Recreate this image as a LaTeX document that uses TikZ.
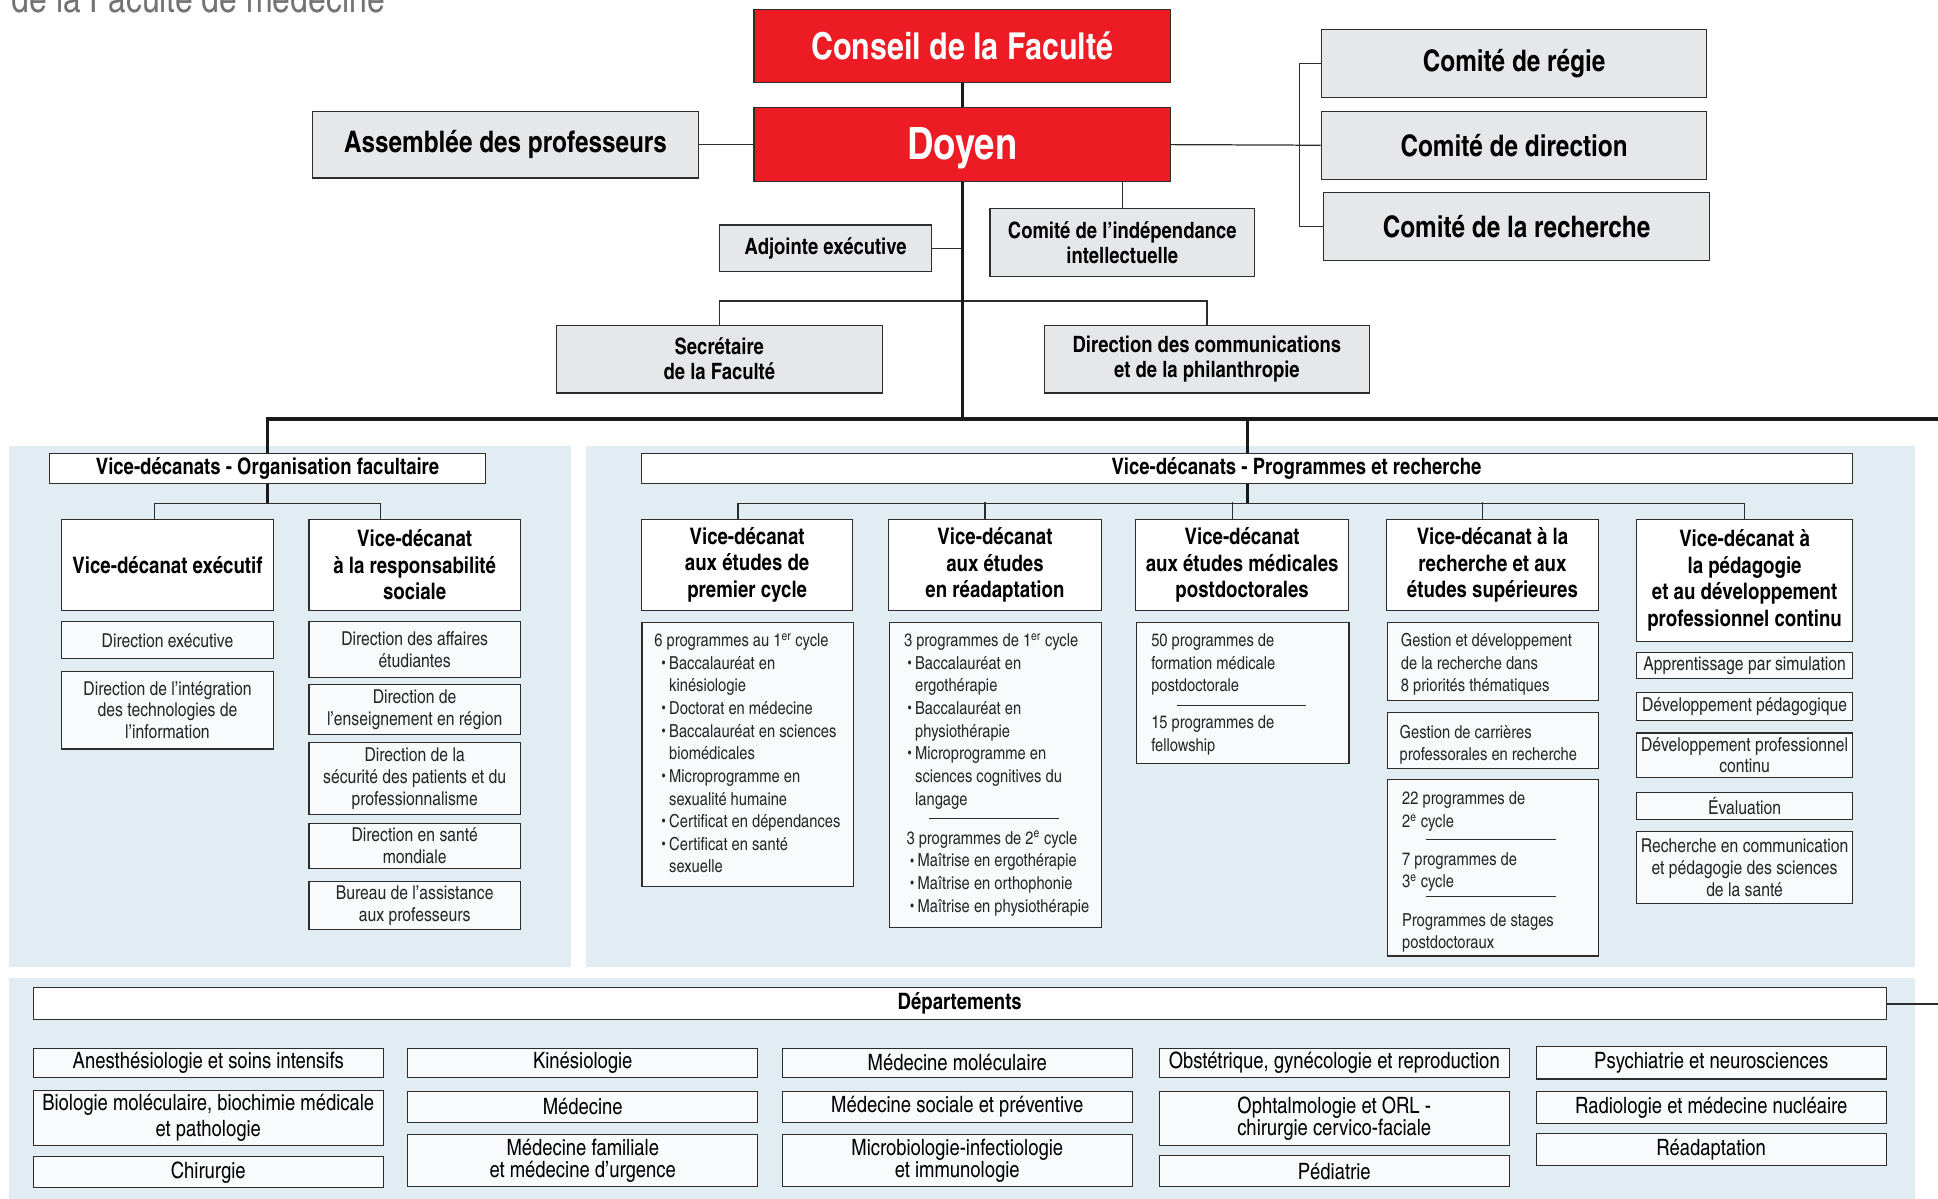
\documentclass[tikz,border=0pt]{standalone}
\usepackage{fontspec}
\setmainfont{texgyreheroscn}[Extension=.otf,UprightFont=*-regular,BoldFont=*-bold,ItalicFont=*-italic,BoldItalicFont=*-bolditalic]

\definecolor{facred}{RGB}{237,28,36}
\definecolor{boxgray}{RGB}{230,231,232}
\definecolor{panelblue}{RGB}{225,236,243}
\definecolor{listfill}{RGB}{248,250,252}
\definecolor{edge}{RGB}{45,45,45}

\newcommand{\ftitle}{\fontsize{31.5}{36}\selectfont}
\newcommand{\fconseil}{\fontsize{30}{36}\selectfont\bfseries}
\newcommand{\fdoyen}{\fontsize{36}{40}\selectfont\bfseries}
\newcommand{\fbig}{\fontsize{24}{28}\selectfont\bfseries}
\newcommand{\fmid}{\fontsize{18.2}{20.5}\selectfont\bfseries}
\newcommand{\fhead}{\fontsize{18.3}{20}\selectfont\bfseries}
\newcommand{\fvd}{\fontsize{18.4}{21.6}\selectfont\bfseries}
\newcommand{\fsmall}{\fontsize{15.5}{17.6}\selectfont}
\newcommand{\flist}{\fontsize{14.5}{18.3}\selectfont}
\newcommand{\fdept}{\fontsize{18.2}{17.5}\selectfont}

\newlength{\itmskip}
\newcommand{\itm}[1]{\par\leftskip=\itmskip\noindent\llap{\raisebox{1.5pt}{\scalebox{0.7}{\textbullet}}\hspace{3pt}}#1}

\tikzset{every picture/.style={line width=0.9pt}}
\tikzset{
  sz/.style 2 args={minimum width=#1,minimum height=#2},
  redbox/.style={draw=edge,fill=facred,text=white,align=center,inner sep=2pt},
  graybox/.style={draw=edge,fill=boxgray,align=center,inner sep=2pt},
  whitebox/.style={draw=edge,fill=white,align=center,inner sep=2pt},
  subbox/.style={draw=edge,fill=listfill,align=center,inner sep=1pt,text=black!85},
  listbox/.style={draw=edge,fill=listfill,anchor=north west,inner sep=0pt,text=black!85},
  deptbox/.style={draw=edge,fill=listfill,align=center,inner sep=1pt,minimum width=283pt,font=\fdept},
  trunk/.style={line width=2.5pt,draw=black!90},
  link/.style={line width=1pt,draw=edge},
  sep/.style={line width=0.8pt,draw=edge},
  panel/.style={fill=panelblue}
}

\begin{document}
\begin{tikzpicture}[x=1pt,y=1pt,yscale=-1]
\useasboundingbox (0,0) rectangle (1568,970);

% background panels
\fill[panel] (7,361) rectangle (462,782);
\fill[panel] (474,361) rectangle (1549,782);
\fill[panel] (7,791) rectangle (1549,975);

% title (cut by the page)
\node[anchor=base west,inner sep=0pt,font=\ftitle,text=black!55] (title) at (9,10) {de la Faculté de médecine};

% direction
\node[redbox,sz={337pt}{59pt},font=\fconseil] (conseil) at (778.5,37.5) {Conseil de la Faculté};
\node[redbox,sz={337pt}{60pt},font=\fdoyen] (doyen) at (778.5,117) {\vphantom{Doyen}\smash{\raisebox{-3pt}{Doyen}}};
\node[graybox,sz={312pt}{54pt},font=\fbig] (assemblee) at (409,117) {Assemblée des professeurs};
\node[graybox,sz={312pt}{55pt},font=\fbig] (regie) at (1225,51.5) {Comité de régie};
\node[graybox,sz={312pt}{55pt},font=\fbig] (direction) at (1225,117.5) {Comité de direction};
\node[graybox,sz={312pt}{55pt},font=\fbig] (recherche) at (1227,183.5) {Comité de la recherche};
\node[graybox,sz={214pt}{55pt},font=\fmid] (independance) at (908,196.5) {Comité de l’indépendance\\intellectuelle};
\node[graybox,sz={172pt}{38pt},font=\fmid] (adjointe) at (668,201) {Adjointe exécutive};
\node[graybox,sz={264pt}{55pt},font=\fmid] (secretaire) at (582,290.5) {Secrétaire\\de la Faculté};
\node[graybox,sz={263pt}{55pt},font=\fmid] (communications) at (976.5,290.5) {Direction des communications\\et de la philanthropie};

% vice-decanats - organisation facultaire
\node[whitebox,sz={353pt}{24pt},font=\fhead] (orghdr) at (216.5,379) {Vice-décanats - Organisation facultaire};
\node[whitebox,sz={171pt}{74pt},font=\fvd] (vdexec) at (135.5,457) {Vice-décanat exécutif};
\node[whitebox,sz={171pt}{74pt},font=\fvd] (vdsoc) at (335.5,457) {Vice-décanat\\à la responsabilité\\sociale};
\node[subbox,sz={171pt}{30pt},font=\fsmall] (dexec) at (135.5,518) {Direction exécutive};
\node[subbox,sz={171pt}{63pt},font=\fsmall] (dinteg) at (135.5,574.5) {Direction de l’intégration\\des technologies de\\l’information};
\node[subbox,sz={171pt}{45pt},font=\fsmall] (daffaires) at (335.5,525.5) {Direction des affaires\\étudiantes};
\node[subbox,sz={171pt}{40pt},font=\fsmall] (dregion) at (335.5,574) {Direction de\\l’enseignement en région};
\node[subbox,sz={171pt}{58pt},font=\fsmall] (dsecurite) at (335.5,630) {Direction de la\\sécurité des patients et du\\professionnalisme};
\node[subbox,sz={171pt}{37pt},font=\fsmall] (dsante) at (335.5,684.5) {Direction en santé\\mondiale};
\node[subbox,sz={171pt}{39pt},font=\fsmall] (dbureau) at (335.5,732.5) {Bureau de l’assistance\\aux professeurs};

% vice-decanats - programmes et recherche
\node[whitebox,sz={980pt}{24pt},font=\fhead] (proghdr) at (1009,379) {\hspace*{80pt}Vice-décanats - Programmes et recherche};
\node[whitebox,sz={171pt}{74pt},font=\fvd] (vdprem) at (604.5,457) {Vice-décanat\\aux études de\\premier cycle};
\node[whitebox,sz={172pt}{74pt},font=\fvd] (vdread) at (805,457) {Vice-décanat\\aux études\\en réadaptation};
\node[whitebox,sz={172pt}{74pt},font=\fvd] (vdpost) at (1005,457) {Vice-décanat\\aux études médicales\\postdoctorales};
\node[whitebox,sz={171pt}{74pt},font=\fvd] (vdrech) at (1207.5,457) {Vice-décanat à la\\recherche et aux\\études supérieures};
\node[whitebox,sz={175pt}{99pt},font=\fvd] (vdpeda) at (1411.5,469.5) {Vice-décanat à\\la pédagogie\\et au développement\\professionnel continu};

\node[listbox] (lprem) at (519,503) {\parbox[c][214pt][t]{171pt}{\flist\vspace*{7pt}\setlength{\itmskip}{22pt}\leftskip=10pt\strut 6 programmes au 1\textsuperscript{er} cycle
  \itm{Baccalauréat en\\kinésiologie}\itm{Doctorat en médecine}\itm{Baccalauréat en sciences\\biomédicales}\itm{Microprogramme en\\sexualité humaine}\itm{Certificat en dépendances}\itm{Certificat en santé\\sexuelle}\par}};
\node[listbox] (lread) at (719,503) {\parbox[c][247pt][t]{172pt}{\flist\vspace*{7pt}\setlength{\itmskip}{21pt}\leftskip=12pt\strut 3 programmes de 1\textsuperscript{er} cycle
  \itm{Baccalauréat en\\ergothérapie}\itm{Baccalauréat en\\physiothérapie}\itm{Microprogramme en\\sciences cognitives du\\langage}\par
  \vspace{13.5pt}\setlength{\itmskip}{23pt}\leftskip=14pt\noindent 3 programmes de 2\textsuperscript{e} cycle
  \itm{Maîtrise en ergothérapie}\itm{Maîtrise en orthophonie}\itm{Maîtrise en physiothérapie}\par}};
\node[listbox] (lpost) at (919,503) {\parbox[c][114pt][t]{172pt}{\flist\vspace*{7pt}\leftskip=12pt\strut 50 programmes de\\formation médicale\\postdoctorale\par
  \vspace{11.5pt}\noindent 15 programmes de\\fellowship\par}};
\node[listbox] (lrech1) at (1122,503) {\parbox[c][63pt][t]{171pt}{\flist\vspace*{7pt}\leftskip=11pt\strut Gestion et développement\\de la recherche dans\\8 priorités thématiques\par}};
\node[listbox] (lrech2) at (1122,576) {\parbox[c][45pt][t]{171pt}{\flist\vspace*{8pt}\leftskip=10pt\strut Gestion de carrières\\professorales en recherche\par}};
\node[listbox] (lrech3) at (1122,630) {\parbox[c][143pt][t]{171pt}{\flist\vspace*{8pt}\leftskip=12pt\strut 22 programmes de\\2\textsuperscript{e} cycle\par
  \vspace{12pt}\noindent 7 programmes de\\3\textsuperscript{e} cycle\par
  \vspace{13pt}\noindent Programmes de stages\\postdoctoraux\par}};
\draw[sep] (752,662) -- (857,662);
\draw[sep] (952,571) -- (1057,571);
\draw[sep] (1154,679) -- (1259,679);
\draw[sep] (1154,725) -- (1259,725);

\node[subbox,sz={175pt}{21pt},font=\fsmall] (papp) at (1411.5,538.5) {Apprentissage par simulation};
\node[subbox,sz={175pt}{23pt},font=\fsmall] (pdev) at (1411.5,571.5) {Développement pédagogique};
\node[subbox,sz={175pt}{36pt},font=\fsmall] (pdpc) at (1411.5,611) {Développement professionnel\\continu};
\node[subbox,sz={175pt}{22pt},font=\fsmall] (peval) at (1411.5,652) {Évaluation};
\node[subbox,sz={175pt}{58pt},font=\fsmall] (precom) at (1411.5,702) {Recherche en communication\\et pédagogie des sciences\\de la santé};

% departements
\node[whitebox,sz={1499pt}{26pt},font=\fhead] (depthdr) at (776.5,812) {Départements};
\node[deptbox,minimum height=24pt] (anesth) at (168.5,860) {Anesthésiologie et soins intensifs};
\node[deptbox,minimum height=45pt,font=\fontsize{18.2}{21}\selectfont] (biologie) at (168.5,904.5) {Biologie moléculaire, biochimie médicale\\et pathologie};
\node[deptbox,minimum height=25pt] (chirurgie) at (168.5,948.5) {Chirurgie};
\node[deptbox,minimum height=24pt] (kinesio) at (471.5,860) {Kinésiologie};
\node[deptbox,minimum height=25pt] (medecine) at (471.5,895.5) {Médecine};
\node[deptbox,minimum height=42pt] (medfam) at (471.5,939) {Médecine familiale\\et médecine d’urgence};
\node[deptbox,minimum height=24pt] (molec) at (774.5,860) {Médecine moléculaire};
\node[deptbox,minimum height=25pt] (sociale) at (774.5,895.5) {Médecine sociale et préventive};
\node[deptbox,minimum height=42pt] (microbio) at (774.5,939) {Microbiologie-infectiologie\\et immunologie};
\node[deptbox,minimum height=24pt] (obstet) at (1079.5,860) {Obstétrique, gynécologie et reproduction};
\node[deptbox,minimum height=44pt] (ophtal) at (1079.5,905) {Ophtalmologie et ORL -\\chirurgie cervico-faciale};
\node[deptbox,minimum height=25pt] (pediatrie) at (1079.5,947.5) {Pédiatrie};
\node[deptbox,minimum height=26pt] (psych) at (1384.5,860) {Psychiatrie et neurosciences};
\node[deptbox,minimum height=26pt] (radio) at (1384.5,896) {Radiologie et médecine nucléaire};
\node[deptbox,minimum height=26pt] (readapt) at (1384.5,930) {Réadaptation};

% connectors
\coordinate (hub) at (778.5,339);
\coordinate (rightend) at (1568,339);
\coordinate (deptend) at (1568,812);
\draw[trunk] (conseil.south) -- (doyen.north);
\draw[link] (assemblee.east) -- (doyen.west);
\draw[link] (doyen.east) -- (direction.west);
\draw[link] (regie.west) -- ++(-17,0) |- (recherche.west);
\draw[link] (independance.north) -- (independance.north |- doyen.south);
\draw[link] (adjointe.east) -- (adjointe.east -| doyen.south);
\draw[link] (secretaire.north) -- ++(0,-19) -| (communications.north);
\draw[trunk] (doyen.south) -- (hub);
\draw[trunk] (orghdr.north) |- (rightend);
\draw[trunk] (proghdr.north) -- (proghdr.north |- rightend);
\draw[trunk] (orghdr.south) -- ++(0,16) coordinate (orgfork);
\draw[link] ([xshift=-10.5pt]vdexec.north) |- (orgfork) -| ([xshift=-27.5pt]vdsoc.north);
\draw[trunk] (proghdr.south) -- ++(0,16) coordinate (progfork);
\draw[link] ([xshift=-7.5pt]vdprem.north) |- (progfork) -| (vdpeda.north);
\foreach \vd in {vdread,vdpost,vdrech}
  \draw[link] ([xshift=-8pt]\vd.north) -- ++(0,-13);
\draw[link,line width=1.6pt] (depthdr.east) -- (deptend);

\end{tikzpicture}
\end{document}
